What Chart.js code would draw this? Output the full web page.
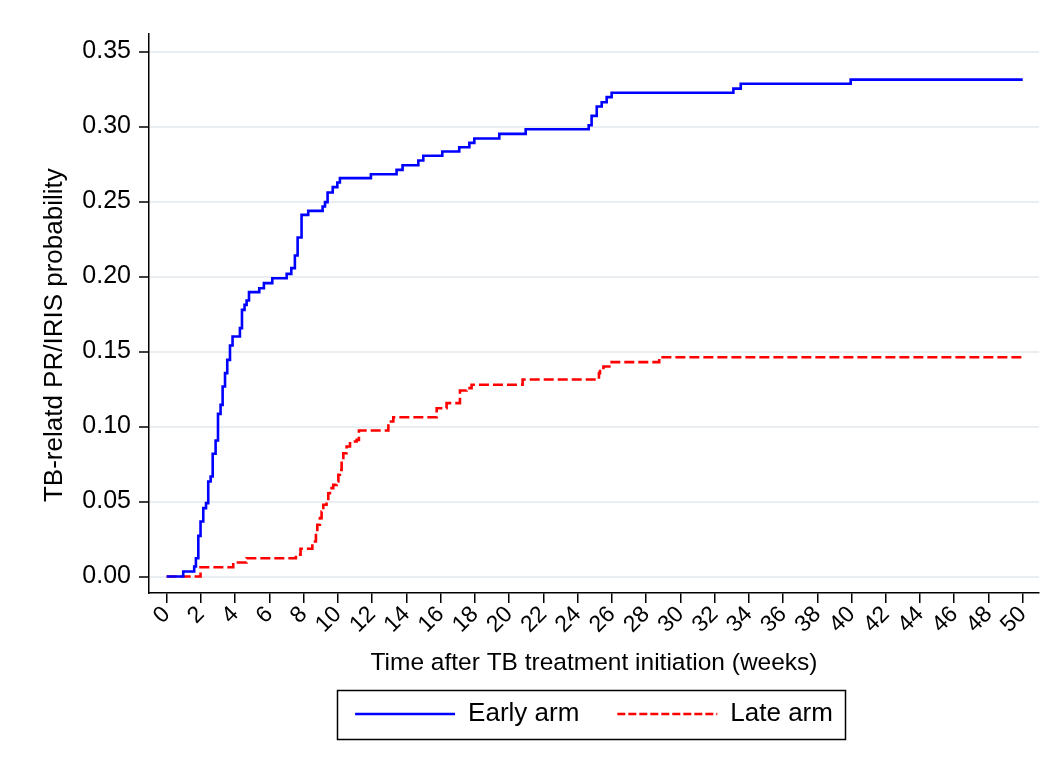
<!DOCTYPE html>
<html>
<head>
<meta charset="utf-8">
<script src="https://cdn.jsdelivr.net/npm/chart.js@4.4.1/dist/chart.umd.min.js"></script>
<style>
html,body{margin:0;padding:0;background:#fff;}
#wrap{width:1047px;height:770px;position:relative;background:#fff;}
</style>
</head>
<body>
<div id="wrap"><canvas id="c" width="1047" height="770"></canvas></div>
<script>
// ---- Data ----
const seriesNames = ['Early arm', 'Late arm'];

const earlyTimes = [0, 0.97, 1.61, 1.71, 1.85, 1.98, 2.14, 2.30, 2.43, 2.57, 2.69, 2.86, 3.00, 3.15, 3.27, 3.41, 3.54, 3.70, 3.85, 4.28, 4.40, 4.55, 4.67, 4.81, 5.41, 5.68, 6.17, 7.01, 7.28, 7.49, 7.65, 7.88, 8.27, 9.11, 9.25, 9.40, 9.70, 9.97, 10.12, 11.93, 13.43, 13.78, 14.70, 14.99, 16.10, 17.09, 17.68, 17.97, 19.43, 20.97, 24.65, 24.82, 25.12, 25.41, 25.70, 25.99, 33.10, 33.53, 39.95, 50];
const earlyValues = [0, 0.0033, 0.0067, 0.0122, 0.0271, 0.0367, 0.0456, 0.0489, 0.0633, 0.0667, 0.0818, 0.0907, 0.1084, 0.1144, 0.1267, 0.1356, 0.1444, 0.1540, 0.1600, 0.1656, 0.1778, 0.1811, 0.1840, 0.1896, 0.1922, 0.1956, 0.1989, 0.2018, 0.2056, 0.2140, 0.2260, 0.2411, 0.2438, 0.2467, 0.2496, 0.2560, 0.2596, 0.2627, 0.2656, 0.2682, 0.2711, 0.2742, 0.2774, 0.2805, 0.2834, 0.2862, 0.2891, 0.2920, 0.2951, 0.2982, 0.3009, 0.3071, 0.3134, 0.3162, 0.3196, 0.3225, 0.3253, 0.3285, 0.3313, 0.3313];

const lateTimes = [0, 1.98, 3.89, 4.67, 7.55, 7.82, 8.51, 8.72, 8.80, 8.95, 9.05, 9.15, 9.34, 9.44, 9.54, 9.73, 9.93, 10.03, 10.12, 10.22, 10.32, 10.51, 10.71, 11.10, 11.23, 12.95, 13.24, 15.77, 16.35, 17.13, 17.52, 17.81, 20.79, 25.25, 25.31, 25.51, 25.99, 28.77, 50];
const lateValues = [0, 0.0062, 0.0093, 0.0122, 0.0145, 0.0185, 0.0233, 0.0311, 0.0345, 0.0389, 0.0433, 0.0478, 0.0500, 0.0555, 0.0589, 0.0611, 0.0633, 0.0678, 0.0711, 0.0767, 0.0822, 0.0867, 0.0900, 0.0911, 0.0973, 0.1033, 0.1062, 0.1122, 0.1156, 0.1240, 0.1256, 0.1278, 0.1313, 0.1356, 0.1378, 0.1400, 0.1429, 0.1462, 0.1462];

const xTickValues = [0, 2, 4, 6, 8, 10, 12, 14, 16, 18, 20, 22, 24, 26, 28, 30, 32, 34, 36, 38, 40, 42, 44, 46, 48, 50];
const yTickValues = [0, 0.05, 0.10, 0.15, 0.20, 0.25, 0.30, 0.35];

const xTitle = 'Time after TB treatment initiation (weeks)';
const yTitle = 'TB-relatd PR/IRIS probability';

// ---- Chart ----
const FONT = "'Liberation Sans', Arial, Helvetica, sans-serif";
Chart.defaults.font.family = FONT;
Chart.defaults.color = '#000';

const toPts = (ts, vs) => ts.map((t, i) => ({x: t, y: vs[i]}));

const legendBorder = {
  id: 'legendBorder',
  afterDraw(chart) {
    const lg = chart.legend;
    if (!lg || !lg.legendHitBoxes || !lg.legendHitBoxes.length) return;
    const hb = lg.legendHitBoxes;
    const first = hb[0], last = hb[hb.length - 1];
    const cy = first.top + first.height / 2;
    const x0 = first.left - 18, x1 = last.left + last.width + 12;
    const ctx = chart.ctx;
    ctx.save();
    ctx.strokeStyle = '#000';
    ctx.lineWidth = 1.5;
    ctx.strokeRect(Math.round(x0) + 0.5, Math.round(cy - 24.5) + 0.5, Math.round(x1 - x0), 49);
    ctx.restore();
  }
};

new Chart(document.getElementById('c'), {
  type: 'line',
  data: {
    datasets: [
      {
        label: seriesNames[0],
        data: toPts(earlyTimes, earlyValues),
        borderColor: '#0000ff',
        backgroundColor: '#0000ff',
        borderWidth: 2.6,
        stepped: true,
        pointRadius: 0,
        fill: false
      },
      {
        label: seriesNames[1],
        data: toPts(lateTimes, lateValues),
        borderColor: '#ff0000',
        backgroundColor: '#ff0000',
        borderWidth: 2.6,
        borderDash: [10, 4],
        stepped: true,
        pointRadius: 0,
        fill: false
      }
    ]
  },
  options: {
    responsive: false,
    animation: false,
    devicePixelRatio: 1,
    layout: {padding: {top: 34, left: 0, right: 8, bottom: 33}},
    plugins: {
      tooltip: {enabled: false},
      legend: {
        position: 'bottom',
        fullSize: false,
        labels: {
          usePointStyle: true,
          pointStyle: 'line',
          pointStyleWidth: 100,
          padding: 38,
          color: '#000',
          font: {size: 26, family: FONT},
          generateLabels(chart) {
            const items = Chart.defaults.plugins.legend.labels.generateLabels(chart);
            items.forEach(it => {
              const ds = chart.data.datasets[it.datasetIndex];
              it.lineDash = ds.borderDash ? [8, 3] : [];
              it.lineWidth = 2.5;
              it.strokeStyle = ds.borderColor;
              it.fillStyle = ds.borderColor;
              it.pointStyle = 'line';
            });
            return items;
          }
        }
      }
    },
    scales: {
      x: {
        type: 'linear',
        min: -1.03,
        max: 50.95,
        afterFit(scale) { scale.height = 70; },
        afterBuildTicks(scale) { scale.ticks = xTickValues.map(v => ({value: v})); },
        grid: {display: true, drawOnChartArea: false, drawTicks: true, tickLength: 10, tickColor: '#000', lineWidth: 1.5},
        border: {display: true, color: '#000', width: 1.5},
        ticks: {
          autoSkip: false,
          minRotation: 45,
          maxRotation: 45,
          padding: -2,
          color: '#000',
          font: {size: 23, family: FONT},
          callback: v => String(v)
        },
        title: {
          display: true,
          text: xTitle,
          color: '#000',
          font: {size: 24.5, family: FONT},
          padding: {top: 0, bottom: -15}
        }
      },
      y: {
        type: 'linear',
        min: -0.011,
        max: 0.3617,
        afterFit(scale) { scale.width = 149; },
        afterBuildTicks(scale) { scale.ticks = yTickValues.map(v => ({value: v})); },
        grid: {display: true, drawOnChartArea: true, drawTicks: true, tickLength: 10, color: '#e8eef1', lineWidth: 2, tickColor: '#000', tickWidth: 1.5},
        border: {display: true, color: '#000', width: 1.5},
        ticks: {
          padding: 8,
          color: '#000',
          font: {size: 25, family: FONT},
          callback: v => Number(v).toFixed(2)
        },
        title: {
          display: true,
          text: yTitle + '      ',
          color: '#000',
          font: {size: 26, family: FONT},
          padding: {top: 39, bottom: 0}
        }
      }
    }
  },
  plugins: [legendBorder]
});
</script>
</body>
</html>
